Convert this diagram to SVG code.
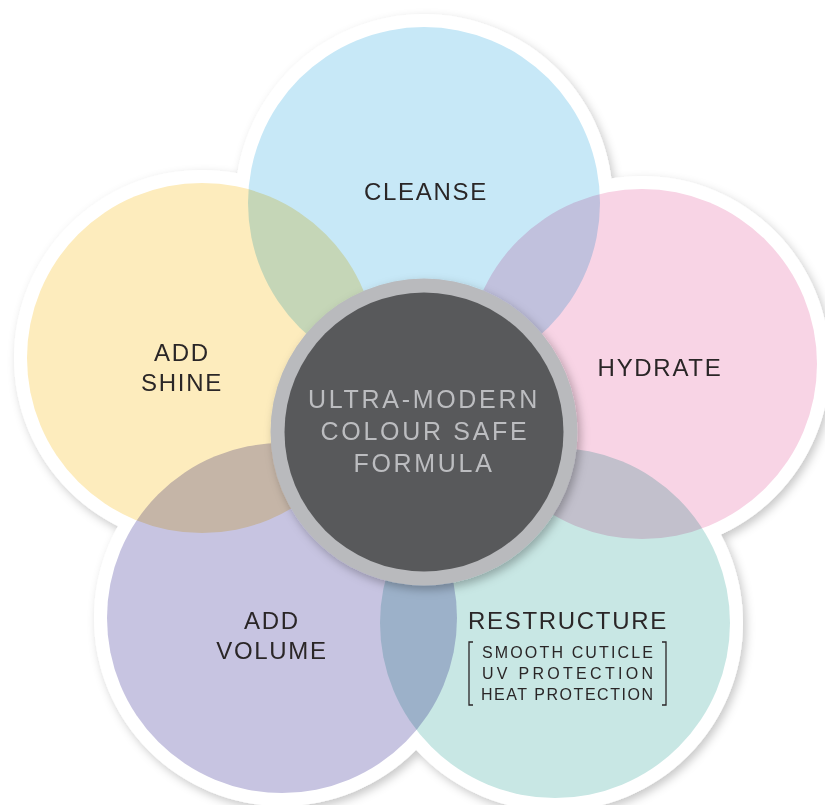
<svg xmlns="http://www.w3.org/2000/svg" width="825" height="805" viewBox="0 0 825 805">
<defs>
<filter id="sh" x="-20%" y="-20%" width="140%" height="140%">
<feDropShadow dx="3" dy="4" stdDeviation="5" flood-color="#000" flood-opacity="0.22"/>
</filter>
<filter id="shc" x="-20%" y="-20%" width="140%" height="140%">
<feDropShadow dx="3" dy="4" stdDeviation="5" flood-color="#000" flood-opacity="0.28"/>
</filter>
<style>
.petal{mix-blend-mode:multiply}
.lbl{font-family:"Liberation Sans",Arial,sans-serif;font-size:24px;fill:#2a2627;text-anchor:middle;letter-spacing:1.7px}
.ctr{font-family:"Liberation Sans",Arial,sans-serif;font-size:25px;fill:#bcbdc0;text-anchor:middle;letter-spacing:2.7px}
.sub{font-family:"Liberation Sans",Arial,sans-serif;font-size:16px;fill:#2a2627}
.br{fill:none;stroke:#2a2627;stroke-width:1.3}
</style>
</defs>
<rect width="825" height="805" fill="#ffffff"/>
<g id="rims" filter="url(#sh)" fill="#ffffff">
<circle cx="424" cy="203" r="189"/>
<circle cx="642" cy="364" r="188"/>
<circle cx="202" cy="358" r="188"/>
<circle cx="282" cy="618" r="188"/>
<circle cx="555" cy="623" r="188"/>
</g>
<g style="isolation:isolate">
<g id="cleanse"><circle class="petal" cx="424" cy="203" r="176" fill="#c7e8f7"/></g>
<g id="hydrate"><circle class="petal" cx="642" cy="364" r="175" fill="#f8d4e5"/></g>
<g id="add-shine"><circle class="petal" cx="202" cy="358" r="175" fill="#fdecbd"/></g>
<g id="add-volume"><circle class="petal" cx="282" cy="618" r="175" fill="#c7c4e1"/></g>
<g id="restructure"><circle class="petal" cx="555" cy="623" r="175" fill="#c8e7e4"/></g>
</g>
<g id="connectors"/>
<g id="labels">
<text class="lbl" x="426" y="200">CLEANSE</text>
<text class="lbl" x="660" y="376">HYDRATE</text>
<text class="lbl" x="182" y="361">ADD</text>
<text class="lbl" x="182" y="391">SHINE</text>
<text class="lbl" x="272" y="629">ADD</text>
<text class="lbl" x="272" y="659">VOLUME</text>
<text class="lbl" x="568" y="629">RESTRUCTURE</text>
<text class="sub" x="482" y="658" textLength="171" lengthAdjust="spacing">SMOOTH CUTICLE</text>
<text class="sub" x="482" y="679" textLength="171" lengthAdjust="spacing">UV PROTECTION</text>
<text class="sub" x="481" y="700" textLength="172" lengthAdjust="spacing">HEAT PROTECTION</text>
<path class="br" d="M473,642 H469 V705 H473"/>
<path class="br" d="M662,642 H666 V705 H662"/>
</g>
<g id="center">
<circle cx="424" cy="432" r="153.5" fill="#b9babd" filter="url(#shc)"/>
<circle cx="424" cy="432" r="139.5" fill="#58595b"/>
<text class="ctr" x="424" y="408">ULTRA-MODERN</text>
<text class="ctr" x="425" y="440">COLOUR SAFE</text>
<text class="ctr" x="424" y="472">FORMULA</text>
</g>
</svg>
